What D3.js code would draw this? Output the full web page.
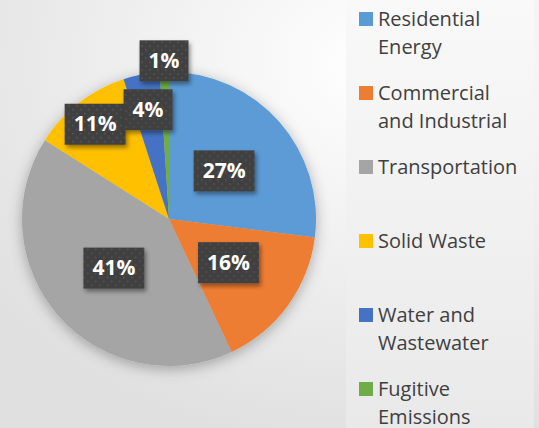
<!DOCTYPE html>
<html>
<head>
<meta charset="utf-8">
<script src="https://cdn.jsdelivr.net/npm/d3@7"></script>
<style>
  html, body { margin: 0; padding: 0; }
  body { width: 539px; height: 428px; overflow: hidden; }
</style>
</head>
<body>
<svg id="chart" width="539" height="428"></svg>
<script>
// chart data
const categories = ['Residential Energy', 'Commercial and Industrial', 'Transportation', 'Solid Waste', 'Water and Wastewater', 'Fugitive Emissions'];
const legendLines = [['Residential', 'Energy'], ['Commercial', 'and Industrial'], ['Transportation'], ['Solid Waste'], ['Water and', 'Wastewater'], ['Fugitive', 'Emissions']];
const shares = [27, 16, 41, 11, 4, 1];
const colors = ['#5B9BD5', '#ED7D31', '#A5A5A5', '#FFC000', '#4472C4', '#70AD47'];

const width = 539, height = 428;
const cx = 169, cy = 219, radius = 147;
// label distance from centre (fraction of radius), Excel "best fit" style
const labelRadius = [0.5, 0.5, 0.5, 0.82, 0.76, 1.08];

const svg = d3.select('#chart');
const defs = svg.append('defs');

// background
const bg = defs.append('radialGradient').attr('id', 'bg')
  .attr('cx', '70%').attr('cy', '15%').attr('r', '90%');
bg.append('stop').attr('offset', '0%').attr('stop-color', '#ffffff');
bg.append('stop').attr('offset', '100%').attr('stop-color', '#e0e0e0');
svg.append('rect').attr('width', width).attr('height', height).attr('fill', 'url(#bg)');

const panel = defs.append('linearGradient').attr('id', 'panel')
  .attr('x1', 0).attr('y1', 0).attr('x2', 0).attr('y2', 1);
panel.append('stop').attr('offset', '0%').attr('stop-color', '#f9f9f9');
panel.append('stop').attr('offset', '100%').attr('stop-color', '#e9e9e9');
svg.append('rect').attr('x', 346).attr('y', 0).attr('width', 188).attr('height', height)
  .attr('fill', 'url(#panel)');

// shadows
const pieShadow = defs.append('filter').attr('id', 'pieShadow')
  .attr('x', '-20%').attr('y', '-20%').attr('width', '140%').attr('height', '140%');
pieShadow.append('feDropShadow').attr('dx', 0).attr('dy', 3).attr('stdDeviation', 7)
  .attr('flood-color', '#000').attr('flood-opacity', 0.3);

const boxShadow = defs.append('filter').attr('id', 'boxShadow')
  .attr('x', '-20%').attr('y', '-20%').attr('width', '150%').attr('height', '150%');
boxShadow.append('feDropShadow').attr('dx', 2).attr('dy', 3).attr('stdDeviation', 2)
  .attr('flood-color', '#000').attr('flood-opacity', 0.4);

// dotted texture for label boxes
const pat = defs.append('pattern').attr('id', 'dots')
  .attr('width', 8).attr('height', 8).attr('patternUnits', 'userSpaceOnUse');
pat.append('rect').attr('width', 8).attr('height', 8).attr('fill', '#404040');
pat.append('rect').attr('x', 1).attr('y', 1).attr('width', 1.5).attr('height', 1.5).attr('fill', '#575757');
pat.append('rect').attr('x', 5).attr('y', 5).attr('width', 1.5).attr('height', 1.5).attr('fill', '#575757');

// pie
const pie = d3.pie().sort(null).value(d => d)(shares);
const arc = d3.arc().innerRadius(0).outerRadius(radius);

const g = svg.append('g').attr('transform', `translate(${cx},${cy})`);
g.append('g').attr('filter', 'url(#pieShadow)')
  .selectAll('path')
  .data(pie)
  .join('path')
  .attr('d', arc)
  .attr('fill', (d, i) => colors[i]);

// data labels
const labels = g.append('g')
  .selectAll('g')
  .data(pie)
  .join('g')
  .attr('transform', (d, i) => {
    const r = radius * labelRadius[i];
    const [x, y] = d3.arc().innerRadius(r).outerRadius(r).centroid(d);
    return `translate(${x},${y})`;
  });

labels.each(function(d, i) {
  const lg = d3.select(this);
  const rect = lg.append('rect').attr('fill', 'url(#dots)').attr('filter', 'url(#boxShadow)');
  const t = lg.append('text')
    .attr('text-anchor', 'middle')
    .attr('dy', '0.36em')
    .attr('fill', '#ffffff')
    .attr('font-family', '"Open Sans", sans-serif')
    .attr('font-weight', 'bold')
    .attr('font-size', 21)
    .text(shares[i] + '%');
  const w = t.node().getComputedTextLength() + 18;
  rect.attr('x', -w / 2).attr('y', -20).attr('width', w).attr('height', 41);
});

// legend
const legend = svg.append('g').attr('transform', 'translate(359,19)');
const items = legend.selectAll('g')
  .data(categories)
  .join('g')
  .attr('transform', (d, i) => `translate(0,${i * 74})`);

items.append('rect')
  .attr('x', 0).attr('y', -7)
  .attr('width', 14).attr('height', 14)
  .attr('fill', (d, i) => colors[i]);

items.append('text')
  .attr('x', 19)
  .attr('y', 7)
  .attr('fill', '#404040')
  .attr('font-family', '"Open Sans", sans-serif')
  .attr('font-size', 20)
  .selectAll('tspan')
  .data((d, i) => legendLines[i])
  .join('tspan')
  .attr('x', 19)
  .attr('dy', (d, j) => j === 0 ? 0 : 28)
  .text(d => d);
</script>
</body>
</html>
